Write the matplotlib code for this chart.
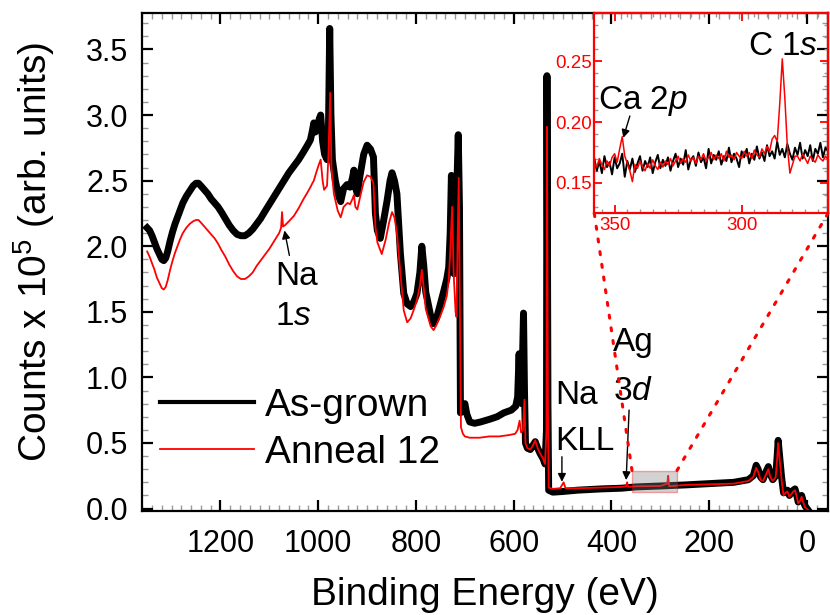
import numpy as np
import matplotlib
matplotlib.use('Agg')
import matplotlib.pyplot as plt
from matplotlib.patches import Rectangle, ConnectionPatch
from matplotlib.ticker import MultipleLocator, FormatStrFormatter

plt.rcParams['font.family'] = ['Liberation Sans', 'DejaVu Sans']
plt.rcParams['mathtext.fontset'] = 'custom'
plt.rcParams['mathtext.rm'] = 'Liberation Sans'
plt.rcParams['mathtext.it'] = 'Liberation Sans:italic'

# --- survey spectra (binding energy eV, counts x1e5) ---
grown_pts = [
    (1350, 2.14), (1345, 2.12), (1340, 2.08), (1335, 2.03), (1330, 1.98), (1325, 1.94),
    (1320, 1.90), (1316, 1.89), (1312, 1.91), (1308, 1.96), (1303, 2.04), (1298, 2.11),
    (1293, 2.17), (1288, 2.22), (1283, 2.27), (1277, 2.33), (1270, 2.38), (1263, 2.42),
    (1256, 2.46), (1250, 2.48), (1245, 2.48), (1240, 2.46), (1233, 2.43), (1226, 2.40),
    (1219, 2.36), (1212, 2.33), (1205, 2.30), (1198, 2.26), (1190, 2.21), (1182, 2.16),
    (1174, 2.12), (1166, 2.09), (1158, 2.08), (1150, 2.08), (1142, 2.10), (1134, 2.13),
    (1126, 2.17), (1118, 2.21), (1110, 2.26), (1100, 2.32), (1090, 2.38), (1080, 2.44),
    (1070, 2.50), (1060, 2.56), (1050, 2.61), (1040, 2.66), (1030, 2.72), (1022, 2.77),
    (1016, 2.81), (1012, 2.88), (1009, 2.94), (1006, 2.87), (1002, 2.90), (998, 2.97),
    (995, 3.00), (991, 2.80), (987, 2.70), (982, 2.66), (979, 2.90), (976.5, 3.66),
    (974, 3.00), (971, 2.66), (965, 2.50), (958, 2.38), (954, 2.34), (948, 2.44),
    (941, 2.47), (935, 2.45), (930, 2.52), (927, 2.58), (924, 2.45), (920, 2.40),
    (914, 2.55), (907, 2.70), (900, 2.77), (893, 2.74), (887, 2.68), (883, 2.25),
    (879, 2.12), (873, 2.06), (866, 2.20), (859, 2.35), (853, 2.50), (849, 2.56),
    (844, 2.50), (839, 2.40), (832, 1.95), (825, 1.64), (818, 1.56), (811, 1.54),
    (804, 1.58), (798, 1.64), (792, 1.80), (788, 2.00), (784, 1.85), (780, 1.65),
    (776, 1.58), (770, 1.47), (764, 1.41), (758, 1.45), (750, 1.56), (743, 1.66),
    (737, 1.75), (733, 1.84), (730, 2.10), (727.5, 2.54), (725, 2.00), (722, 1.79),
    (719, 2.00), (716, 2.50), (713.5, 2.85), (711, 2.30), (709, 0.73), (704, 0.75),
    (700, 0.80), (696, 0.72), (690, 0.66), (680, 0.65), (668, 0.66), (650, 0.68),
    (634, 0.70), (620, 0.73), (605, 0.75), (596, 0.78), (592, 0.85), (589, 1.18),
    (587, 0.85), (584, 0.80), (580, 1.49), (578, 0.90), (576, 0.50), (572, 0.46),
    (566, 0.45), (561, 0.48), (556, 0.51), (551, 0.46), (546, 0.42), (540, 0.38),
    (536, 0.34), (533, 0.60), (532, 3.30), (530, 0.80), (528.5, 0.14), (520, 0.125),
    (500, 0.13), (470, 0.14), (420, 0.15), (380, 0.155), (350, 0.165), (300, 0.172),
    (250, 0.18), (200, 0.19), (150, 0.20), (120, 0.22), (110, 0.25), (104, 0.33),
    (100, 0.30), (95, 0.24), (90, 0.22), (84, 0.28), (79, 0.32), (75, 0.26),
    (70, 0.22), (64, 0.25), (61, 0.40), (59, 0.52), (56, 0.40), (52, 0.24),
    (48, 0.12), (44, 0.13), (40, 0.14), (36, 0.10), (32, 0.12), (28, 0.14),
    (24.5, 0.15), (21, 0.10), (18, 0.05), (14, 0.07), (11, 0.10), (8, 0.06),
    (4, 0.02), (0, 0.00), (-2, -0.01),
]
anneal_pts = [
    (1350, 1.96), (1345, 1.92), (1340, 1.87), (1335, 1.82), (1330, 1.76), (1325, 1.72),
    (1320, 1.68), (1316, 1.67), (1312, 1.69), (1308, 1.74), (1303, 1.82), (1298, 1.89),
    (1293, 1.95), (1288, 2.00), (1283, 2.05), (1277, 2.10), (1270, 2.14), (1263, 2.17),
    (1256, 2.19), (1250, 2.20), (1245, 2.20), (1240, 2.18), (1233, 2.15), (1226, 2.12),
    (1219, 2.09), (1212, 2.06), (1205, 2.02), (1198, 1.97), (1190, 1.92), (1182, 1.86),
    (1174, 1.81), (1166, 1.77), (1158, 1.75), (1150, 1.75), (1142, 1.77), (1134, 1.80),
    (1126, 1.85), (1118, 1.89), (1110, 1.93), (1100, 1.98), (1090, 2.04), (1080, 2.10),
    (1076, 2.14), (1074, 2.26), (1072, 2.15), (1068, 2.16), (1060, 2.19), (1050, 2.23),
    (1040, 2.29), (1030, 2.36), (1022, 2.41), (1016, 2.45), (1012, 2.48), (1009, 2.50),
    (1005, 2.55), (999, 2.62), (995, 2.66), (991, 2.50), (988, 2.43), (982, 2.46),
    (979, 2.70), (975.5, 3.17), (973, 2.60), (968, 2.40), (960, 2.27), (954, 2.22),
    (948, 2.30), (940, 2.33), (935, 2.32), (930, 2.36), (927, 2.39), (924, 2.30),
    (920, 2.28), (914, 2.38), (907, 2.49), (900, 2.54), (893, 2.53), (887, 2.48),
    (883, 2.15), (879, 2.03), (870, 1.94), (862, 2.05), (855, 2.18), (849, 2.26),
    (844, 2.22), (839, 2.10), (832, 1.80), (825, 1.51), (818, 1.42), (811, 1.45),
    (804, 1.52), (798, 1.59), (792, 1.70), (788, 1.82), (784, 1.68), (780, 1.52),
    (776, 1.47), (770, 1.39), (764, 1.36), (758, 1.40), (750, 1.47), (743, 1.54),
    (737, 1.62), (733, 1.74), (730, 1.95), (726, 2.30), (723, 1.80), (719, 1.50),
    (717, 1.46), (715, 2.00), (712.5, 2.52), (710, 1.50), (708, 0.62), (704, 0.57),
    (700, 0.55), (690, 0.54), (670, 0.54), (650, 0.55), (630, 0.55), (610, 0.56),
    (597, 0.57), (592, 0.60), (588, 0.67), (585, 0.58), (581, 0.60), (578, 0.83),
    (576, 0.50), (572, 0.46), (566, 0.45), (561, 0.48), (556, 0.52), (551, 0.46),
    (546, 0.42), (540, 0.38), (536, 0.34), (533, 0.60), (532, 2.91), (530, 0.80),
    (528.5, 0.16), (520, 0.15), (505, 0.155), (498, 0.20), (494, 0.155), (470, 0.155),
    (420, 0.16), (380, 0.165), (370, 0.17), (368, 0.20), (366, 0.165), (350, 0.17),
    (300, 0.172), (286, 0.19), (284, 0.25), (282, 0.17), (250, 0.18), (200, 0.185),
    (150, 0.19), (120, 0.21), (110, 0.24), (104, 0.31), (100, 0.28), (95, 0.22),
    (90, 0.21), (84, 0.26), (79, 0.30), (75, 0.24), (70, 0.21), (64, 0.24),
    (61, 0.38), (59, 0.50), (56, 0.38), (52, 0.22), (48, 0.10), (44, 0.12),
    (40, 0.13), (36, 0.09), (32, 0.11), (28, 0.13), (24.5, 0.14), (21, 0.09),
    (18, 0.04), (14, 0.06), (11, 0.09), (8, 0.05), (4, 0.01), (-2, -0.01),
]
be_grown, cnt_grown = np.array(grown_pts).T
be_anneal, cnt_anneal = np.array(anneal_pts).T

# --- zoomed window 358 -> 266 eV, 1 eV steps ---
be_zoom = np.arange(358, 265, -1)
grown_zoom = [
    0.170, 0.160, 0.168, 0.158, 0.172, 0.163, 0.167, 0.157, 0.171, 0.162,
    0.166, 0.174, 0.155, 0.168, 0.161, 0.170, 0.159, 0.166, 0.172, 0.160,
    0.168, 0.163, 0.171, 0.158, 0.167, 0.173, 0.162, 0.169, 0.164, 0.171,
    0.160, 0.168, 0.174, 0.163, 0.170, 0.165, 0.177, 0.161, 0.169, 0.172,
    0.164, 0.175, 0.167, 0.171, 0.162, 0.178, 0.166, 0.173, 0.169, 0.176,
    0.165, 0.172, 0.168, 0.179, 0.167, 0.174, 0.170, 0.163, 0.176, 0.171,
    0.178, 0.166, 0.174, 0.169, 0.180, 0.170, 0.175, 0.168, 0.181, 0.172,
    0.176, 0.170, 0.184, 0.173, 0.178, 0.171, 0.182, 0.174, 0.169, 0.179,
    0.173, 0.183, 0.170, 0.177, 0.172, 0.181, 0.168, 0.178, 0.174, 0.183,
    0.171, 0.179, 0.176,
]
anneal_zoom = [
    0.166, 0.163, 0.170, 0.165, 0.161, 0.168, 0.164, 0.171, 0.174, 0.167,
    0.178, 0.188, 0.172, 0.166, 0.160, 0.151, 0.165, 0.162, 0.168, 0.163,
    0.160, 0.166, 0.162, 0.169, 0.164, 0.161, 0.167, 0.163, 0.168, 0.165,
    0.170, 0.164, 0.168, 0.172, 0.166, 0.170, 0.167, 0.173, 0.168, 0.171,
    0.166, 0.172, 0.169, 0.174, 0.168, 0.171, 0.175, 0.169, 0.173, 0.170,
    0.174, 0.168, 0.176, 0.171, 0.173, 0.169, 0.175, 0.172, 0.170, 0.176,
    0.172, 0.175, 0.170, 0.177, 0.173, 0.171, 0.178, 0.174, 0.180, 0.176,
    0.186, 0.189, 0.184, 0.215, 0.252, 0.220, 0.180, 0.158, 0.165, 0.172,
    0.172, 0.168, 0.174, 0.170, 0.166, 0.172, 0.169, 0.167, 0.173, 0.170,
    0.168, 0.172, 0.169,
]
zoom_x = (358, 266)
zoom_y = (0.125, 0.29)

fig = plt.figure(figsize=(8.3, 6.15), dpi=100)
ax = fig.add_axes([0.1714, 0.1686, 0.8262, 0.8107])
ax.plot(be_grown, cnt_grown, color='black', lw=5.0, label='As-grown')
ax.plot(be_anneal, cnt_anneal, color='red', lw=1.3, label='Anneal 12')
ax.set_xlim(1360, -43)
ax.set_ylim(-0.021, 3.78)
ax.xaxis.set_major_locator(MultipleLocator(200))
ax.xaxis.set_minor_locator(MultipleLocator(20))
ax.yaxis.set_major_locator(MultipleLocator(0.5))
ax.yaxis.set_minor_locator(MultipleLocator(0.1))
ax.yaxis.set_major_formatter(FormatStrFormatter('%.1f'))
ax.tick_params(which='both', direction='in', top=True, right=True)
ax.tick_params(which='major', length=8, width=1.6, labelsize=22)
ax.tick_params(axis='x', which='major', pad=13)
ax.tick_params(axis='y', which='major', pad=10)
ax.tick_params(which='minor', length=4, width=1.0, color='0.6')
for s in ax.spines.values():
    s.set_linewidth(1.6)

fig.text(485 / 830, 1 - 595 / 615, 'Binding Energy (eV)', fontsize=28, ha='center', va='center')
fig.text(34 / 830, 1 - 252 / 615, 'Counts x 10$^5$ (arb. units)', fontsize=28,
         rotation=90, ha='center', va='center')

leg = ax.legend(loc='center left', bbox_to_anchor=(0.193, 0.302), bbox_transform=fig.transFigure,
                frameon=False, fontsize=28, handlelength=2.4, handletextpad=0.3,
                labelspacing=0.28, borderpad=0, borderaxespad=0)
leg.get_lines()[0].set_linewidth(3.0)

# peak labels
arr = dict(arrowstyle='-|>', color='black', lw=1.0, mutation_scale=12, shrinkA=0, shrinkB=0)
ax.text(1087.5, 1.7035, 'Na', fontsize=24, va='baseline')
ax.text(1087.5, 1.40, '1$s$', fontsize=24, va='baseline')
ax.annotate('', xy=(1069, 2.12), xytext=(1059, 1.93), arrowprops=arr)
ax.text(515, 0.80, 'Na', fontsize=24, va='baseline')
ax.text(515, 0.45, 'KLL', fontsize=24, va='baseline')
ax.annotate('', xy=(501.4, 0.204), xytext=(501.4, 0.395), arrowprops=arr)
ax.text(396, 1.20, 'Ag', fontsize=24, va='baseline')
ax.text(396, 0.83, '3$d$', fontsize=24, va='baseline')
ax.annotate('', xy=(370, 0.217), xytext=(364, 0.751), arrowprops=arr)

# zoom window marker
ax.add_patch(Rectangle((zoom_x[1], zoom_y[0]), zoom_x[0] - zoom_x[1], zoom_y[1] - zoom_y[0],
                       facecolor='0.5', alpha=0.35, edgecolor='red', lw=1.0, zorder=3))

# inset
axins = fig.add_axes([0.716, 0.6532, 0.2816, 0.3262], facecolor='none')
axins.plot(be_zoom, grown_zoom, color='black', lw=1.4)
axins.plot(be_zoom, anneal_zoom, color='red', lw=1.1)
axins.set_xlim(*zoom_x)
axins.set_ylim(*zoom_y)
axins.xaxis.set_major_locator(MultipleLocator(50))
axins.xaxis.set_minor_locator(MultipleLocator(5))
axins.yaxis.set_major_locator(MultipleLocator(0.05))
axins.yaxis.set_minor_locator(MultipleLocator(0.01))
axins.yaxis.set_major_formatter(FormatStrFormatter('%.2f'))
axins.tick_params(which='both', direction='in', top=True, right=True)
axins.tick_params(which='major', length=6, width=1.3, color='red', labelcolor='red', labelsize=13.5)
axins.tick_params(axis='x', which='major', pad=3)
axins.tick_params(axis='y', which='major', pad=2)
axins.tick_params(which='minor', length=3, width=1.0, color='0.6')
for s in axins.spines.values():
    s.set_color('red')
    s.set_linewidth(1.6)
axins.text(283.7, 0.2555, 'C 1$s$', fontsize=24, ha='center', va='baseline')
axins.text(356.5, 0.2104, 'Ca 2$p$', fontsize=24, ha='left', va='baseline')
axins.annotate('', xy=(346.6, 0.187), xytext=(344.0, 0.205), arrowprops=arr)

for xa, xb in [(zoom_x[0], 0), (zoom_x[1], 1)]:
    con = ConnectionPatch(xyA=(xa, zoom_y[1]), coordsA=ax.transData,
                          xyB=(xb, 0), coordsB=axins.transAxes,
                          color='red', lw=2.2, linestyle=(0, (1, 3.2)))
    fig.add_artist(con)

fig.savefig('out.png', dpi=100)
